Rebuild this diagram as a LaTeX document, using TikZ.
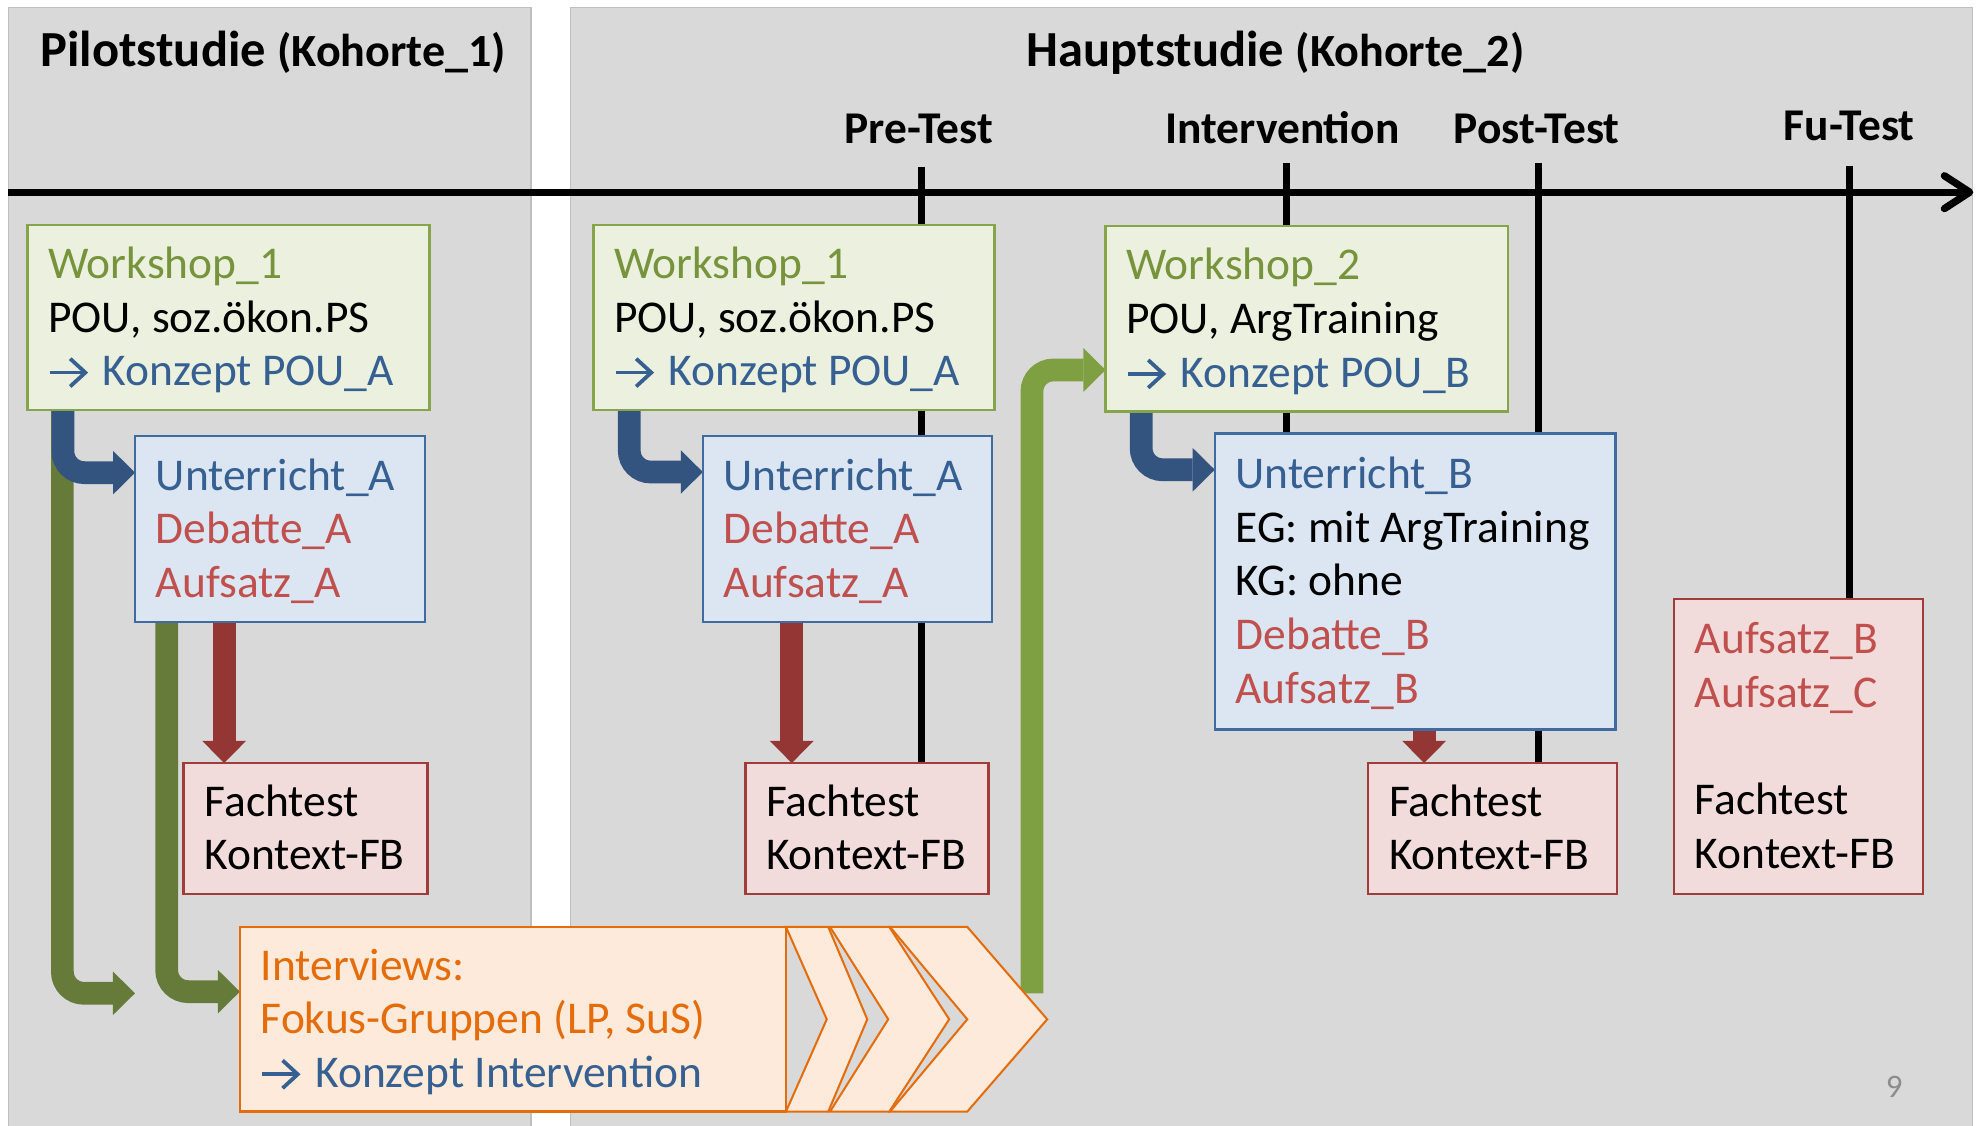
\documentclass[tikz,border=0pt]{standalone}
\usepackage{fontspec}
\setmainfont{Carlito}
\usetikzlibrary{arrows.meta,calc}
\pgfdeclarelayer{bg}
\pgfsetlayers{bg,main}
\definecolor{panelgray}{HTML}{D9D9D9}
\definecolor{panelborder}{HTML}{BFBFBF}
\definecolor{gfill}{HTML}{EBF1DE}
\definecolor{gborder}{HTML}{86A44A}
\definecolor{gtext}{HTML}{77933C}
\definecolor{bfill}{HTML}{DCE6F2}
\definecolor{bborder}{HTML}{3F6BA0}
\definecolor{btext}{HTML}{376092}
\definecolor{rfill}{HTML}{F2DCDB}
\definecolor{rborder}{HTML}{A03C3A}
\definecolor{rtext}{HTML}{C0504D}
\definecolor{ofill}{HTML}{FDEADA}
\definecolor{oborder}{HTML}{E46C0A}
\definecolor{otext}{HTML}{E46C0A}
\definecolor{barrowc}{HTML}{345480}
\definecolor{dgarrowc}{HTML}{667A3A}
\definecolor{lgarrowc}{HTML}{7F9F43}
\definecolor{rarrowc}{HTML}{943634}
\definecolor{pgray}{HTML}{8C8C8C}
\newcommand{\bodyfont}{\fontsize{36}{42.5}\selectfont\frenchspacing}
\newcommand{\lblfont}{\fontsize{36}{42}\selectfont\bfseries}
\newcommand{\ls}{\vrule height 32.85pt depth 9.65pt width 0pt\relax}
\newcommand{\arrgap}{\kern35pt\relax}
\tikzset{
  box/.style={draw, line width=2pt, anchor=north west, inner xsep=16.5pt, inner ysep=0pt, outer sep=0pt, align=flush left, font=\bodyfont},
  gbox/.style={box, draw=gborder, fill=gfill},
  bbox/.style={box, draw=bborder, fill=bfill},
  rbox/.style={box, draw=rborder, fill=rfill},
  obox/.style={box, draw=oborder, fill=ofill},
  chev/.style={draw=oborder, fill=ofill, line width=1.6pt, line join=miter},
  tickline/.style={line width=5.8pt},
  lbl/.style={font=\lblfont, anchor=base, inner sep=0pt},
  ttl/.style={font=\fontsize{40}{46}\selectfont\bfseries, anchor=base west, inner sep=0pt},
  txtarrow/.style={draw=btext, line width=3pt, -{Straight Barb[length=12pt,width=22pt]}},
  blockarrow/.style={line width=18pt, rounded corners=17pt, -{Triangle[length=17.5pt,width=34.5pt,line width=0pt]}},
  bluearrow/.style={blockarrow, draw=barrowc},
  dgarrow/.style={blockarrow, draw=dgarrowc},
  lgarrow/.style={blockarrow, draw=lgarrowc},
  redarrow/.style={blockarrow, draw=rarrowc},
}
\begin{document}
\begin{tikzpicture}[x=1pt,y=-1pt]
\useasboundingbox (0,0) rectangle (1568,891);

% titles and labels
\node[ttl] (t1) at (31.8,52.8) {Pilotstudie {\fontsize{36.5}{42}\selectfont (Kohorte\_1)}};
\node[ttl] (t2) at (812.9,52.8) {Hauptstudie {\fontsize{36.5}{42}\selectfont (Kohorte\_2)}};
\node[lbl] (lpre) at (727.7,113.5) {Pre-Test};
\node[lbl] (lint) at (1015.5,113.5) {Intervention};
\node[lbl] (lpost) at (1217,113.5) {Post-Test};
\node[lbl] (lfu) at (1464.4,111) {Fu-Test};

% boxes
\node[gbox, minimum width=318.5pt, minimum height=146.5pt, text width=285.5pt] (w1a) at (21.8,178.2)
  {\ls{\color{gtext}Workshop\_1}\\\ls POU, soz.ökon.PS\\\ls\arrgap{} {\color{btext}Konzept POU\_A}};
\node[bbox, minimum width=229.4pt, minimum height=147.3pt, text width=196.4pt] (ua) at (107,345.3)
  {\ls{\color{btext}Unterricht\_A}\\\ls{\color{rtext}Debatte\_A}\\\ls{\color{rtext}Aufsatz\_A}};
\node[rbox, minimum width=193pt, minimum height=103.5pt, text width=160pt] (fa) at (145.5,604.3)
  {\ls Fachtest\\\ls Kontext-FB};

\node[gbox, minimum width=317.5pt, minimum height=146.5pt, text width=284.5pt] (w1b) at (470,178.2)
  {\ls{\color{gtext}Workshop\_1}\\\ls POU, soz.ökon.PS\\\ls\arrgap{} {\color{btext}Konzept POU\_A}};
\node[bbox, minimum width=229pt, minimum height=147.3pt, text width=196pt] (ua2) at (556.6,345.3)
  {\ls{\color{btext}Unterricht\_A}\\\ls{\color{rtext}Debatte\_A}\\\ls{\color{rtext}Aufsatz\_A}};
\node[rbox, minimum width=192.6pt, minimum height=103.5pt, text width=159.6pt] (fa2) at (590.2,604.3)
  {\ls Fachtest\\\ls Kontext-FB};

\node[gbox, minimum width=318.7pt, minimum height=147pt, text width=285.7pt] (w2) at (875.5,179)
  {\ls{\color{gtext}Workshop\_2}\\\ls POU, ArgTraining\\\ls\arrgap{} {\color{btext}Konzept POU\_B}};
\node[bbox, minimum width=317.2pt, minimum height=234.3pt, text width=284.2pt] (ub) at (962,343.2)
  {\ls{\color{btext}Unterricht\_B}\\\ls EG: mit ArgTraining\\\ls KG: ohne\\\ls{\color{rtext}Debatte\_B}\\\ls{\color{rtext}Aufsatz\_B}};
\node[rbox, minimum width=197pt, minimum height=103.5pt, text width=164pt] (fb) at (1083.5,604.3)
  {\ls Fachtest\\\ls Kontext-FB};
\node[rbox, minimum width=197pt, minimum height=233.6pt, text width=164pt] (ab) at (1325.7,474.2)
  {\ls{\color{rtext}Aufsatz\_B}\\\ls{\color{rtext}Aufsatz\_C}\\\ls\\\ls Fachtest\\\ls Kontext-FB};

\node[obox, minimum width=432.4pt, minimum height=146.3pt, text width=399.4pt] (iv) at (190,734)
  {\ls{\color{otext}Interviews:}\\\ls{\color{otext}Fokus-Gruppen (LP, SuS)}\\\ls\arrgap{} {\color{btext}Konzept Intervention}};

% arrows inside the text
\draw[txtarrow] ($(w1a.west)+(17.5,43.6)$) -- ($(w1a.west)+(48,43.6)$);
\draw[txtarrow] ($(w1b.west)+(17.5,43.6)$) -- ($(w1b.west)+(48,43.6)$);
\draw[txtarrow] ($(w2.west)+(17.5,43.6)$) -- ($(w2.west)+(48,43.6)$);
\draw[txtarrow] ($(iv.west)+(17.5,43.6)$) -- ($(iv.west)+(48,43.6)$);

% chevrons
\filldraw[chev] (622.4,734) -- (655.9,734) -- (686.8,807.2) -- (655.9,880.3) -- (622.4,880.3) -- (654.7,807.2) -- cycle;
\filldraw[chev] (657.3,734) -- (704.2,734) -- (751.7,807.2) -- (704.2,880.3) -- (657.3,880.3) -- (703.4,807.2) -- cycle;
\filldraw[chev] (704.8,734) -- (766,734) -- (829.3,807.2) -- (766,880.3) -- (704.8,880.3) -- (766,807.2) -- cycle;

% page number
\node[font=\fontsize{26}{30}\selectfont, text=pgray, anchor=base, inner sep=0pt] (pg) at (1500,869) {9};

\begin{pgfonlayer}{bg}
  % panels
  \fill[panelgray] (6.7,5.8) rectangle (420.7,900);
  \draw[panelborder, line width=1.2pt] (6.7,900) -- (6.7,5.8) -- (420.7,5.8) -- (420.7,900);
  \fill[panelgray] (451.6,5.8) rectangle (1562.1,900);
  \draw[panelborder, line width=1.2pt] (451.6,900) -- (451.6,5.8) -- (1562.1,5.8) -- (1562.1,900);

  % timeline
  \coordinate (tl0) at (6.7,152.2);
  \coordinate (tl1) at (1562.7,152.2);
  \draw[line width=5.8pt, -{Straight Barb[length=20pt,width=26pt,line cap=round,line join=round]}] (tl0) -- (tl1);

  % ticks
  \coordinate (tpre) at (729.8,132);
  \coordinate (tint) at (1018.6,129.3);
  \coordinate (tpost) at (1218.6,129.3);
  \coordinate (tfu) at (1464.4,131.2);
  \draw[tickline] (tpre) -- (tpre |- fa2.north);
  \draw[tickline] (tint) -- (tint |- ub.north);
  \draw[tickline] (tpost) -- (tpost |- fb.north);
  \draw[tickline] (tfu) -- (tfu |- ab.north);

  % green arrows
  \coordinate (g1end) at (106.9,786.6);
  \draw[dgarrow] ($(w1a.south west)+(27.6,0)$) |- (g1end);
  \draw[dgarrow] ($(ua.south west)+(25,0)$) |- ($(iv.north west)+(0,51.3)$);
  \coordinate (g3start) at (817.2,786.6);
  \draw[lgarrow] (g3start) |- ($(w2.north west)+(0,114)$);

  % blue arrows
  \draw[bluearrow] ($(w1a.south west)+(28,0)$) |- ($(ua.north west)+(0,29)$);
  \draw[bluearrow] ($(w1b.south west)+(28.3,0)$) |- ($(ua2.north west)+(0,28.5)$);
  \draw[bluearrow] ($(w2.south west)+(28.2,0)$) |- ($(ub.north west)+(0,28.8)$);

  % red arrows
  \draw[redarrow] ($(ua.south west)+(70.5,0)$) -- ($(fa.north west)+(32,0)$);
  \draw[redarrow] ($(ua2.south west)+(70.4,0)$) -- ($(fa2.north west)+(36.8,0)$);
  \draw[redarrow] ($(ub.south west)+(165.8,0)$) -- ($(fb.north west)+(44.3,0)$);
\end{pgfonlayer}
\end{tikzpicture}
\end{document}
